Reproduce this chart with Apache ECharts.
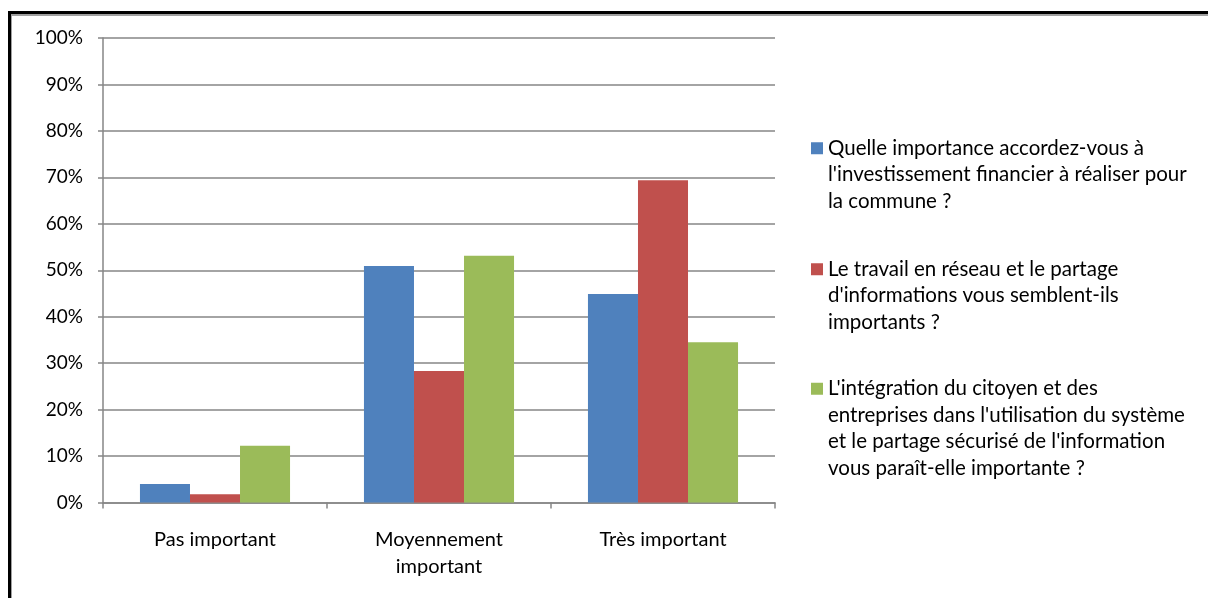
<!DOCTYPE html>
<html>
<head>
<meta charset="utf-8">
<script src="https://cdn.jsdelivr.net/npm/echarts@6/dist/echarts.min.js"></script>
<style>
    html, body { margin: 0; padding: 0; background: #fff; }
    #frame { position: absolute; left: 8px; top: 11px; right: 0; bottom: 0; border-top: 3px solid #000; border-left: 3px solid #000; }
    #frame-inner { position: absolute; left: 0; top: 0; right: 0; bottom: 0; border-top: 2px solid #a0a0a0; border-left: 1px solid #a0a0a0; }
    #chart { position: absolute; left: 0; top: 0; width: 1208px; height: 598px; }
</style>
</head>
<body>
<div id="frame"><div id="frame-inner"></div></div>
<div id="chart"></div>
<script>
const categories = ["Pas important", "Moyennement\nimportant", "Très important"];
const seriesNames = [
    "Quelle importance accordez-vous à\nl'investissement financier à réaliser pour\nla commune ?",
    "Le travail en réseau et le partage\nd'informations vous semblent-ils\nimportants ?",
    "L'intégration du citoyen et des\nentreprises dans l'utilisation du système\net le partage sécurisé de l'information\nvous paraît-elle importante ?",
];
const investissement = [4.0, 50.9, 44.9];
const reseau = [1.8, 28.3, 69.4];
const integration = [12.2, 53.1, 34.5];
const colors = ["#4f81bd", "#c0504d", "#9bbb59"];
const yTicks = [0, 10, 20, 30, 40, 50, 60, 70, 80, 90, 100];

const FONT = "Lato, 'Open Sans', sans-serif";
const LINE_H = 26.5;

const chart = echarts.init(document.getElementById("chart"), null, { renderer: "canvas" });

// one legend per item; blank lines in front keep the marker level with the first text line
const legendTops = [77, 198, 291];
const legends = seriesNames.map((name, i) => {
    const lines = name.split("\n").length;
    return {
        data: [name],
        orient: "vertical",
        left: 806,
        top: legendTops[i],
        itemWidth: 12,
        itemHeight: 12,
        itemGap: 0,
        selectedMode: false,
        icon: "rect",
        formatter: (n) => "\n".repeat(lines - 1) + n,
        textStyle: {
            fontFamily: FONT,
            fontSize: 20.5,
            color: "#000",
            lineHeight: LINE_H,
        },
    };
});

const values = [investissement, reseau, integration];

chart.setOption({
    animation: false,
    backgroundColor: "transparent",
    textStyle: { fontFamily: FONT },
    legend: legends,
    grid: { left: 103, right: 433, top: 38, bottom: 95.5, containLabel: false },
    xAxis: {
        type: "category",
        data: categories,
        axisLine: { lineStyle: { color: "#868686", width: 1.5 } },
        axisTick: { show: true, inside: false, length: 6, lineStyle: { color: "#868686", width: 1.5 } },
        axisLabel: { fontFamily: FONT, fontSize: 20, color: "#000", lineHeight: 27, margin: 24 },
    },
    yAxis: {
        type: "value",
        min: yTicks[0],
        max: yTicks[yTicks.length - 1],
        interval: 10,
        axisLine: { show: true, lineStyle: { color: "#868686", width: 1.5 } },
        axisTick: { show: true, inside: false, length: 5, lineStyle: { color: "#868686", width: 1.5 } },
        splitLine: { lineStyle: { color: "#868686", width: 1.5 } },
        axisLabel: { fontFamily: FONT, fontSize: 19, color: "#000", margin: 20, formatter: "{value}%" },
    },
    series: values.map((v, i) => ({
        name: seriesNames[i],
        type: "bar",
        data: v,
        barGap: "0%",
        barCategoryGap: "33%",
        itemStyle: { color: colors[i] },
    })),
});
</script>
</body>
</html>
